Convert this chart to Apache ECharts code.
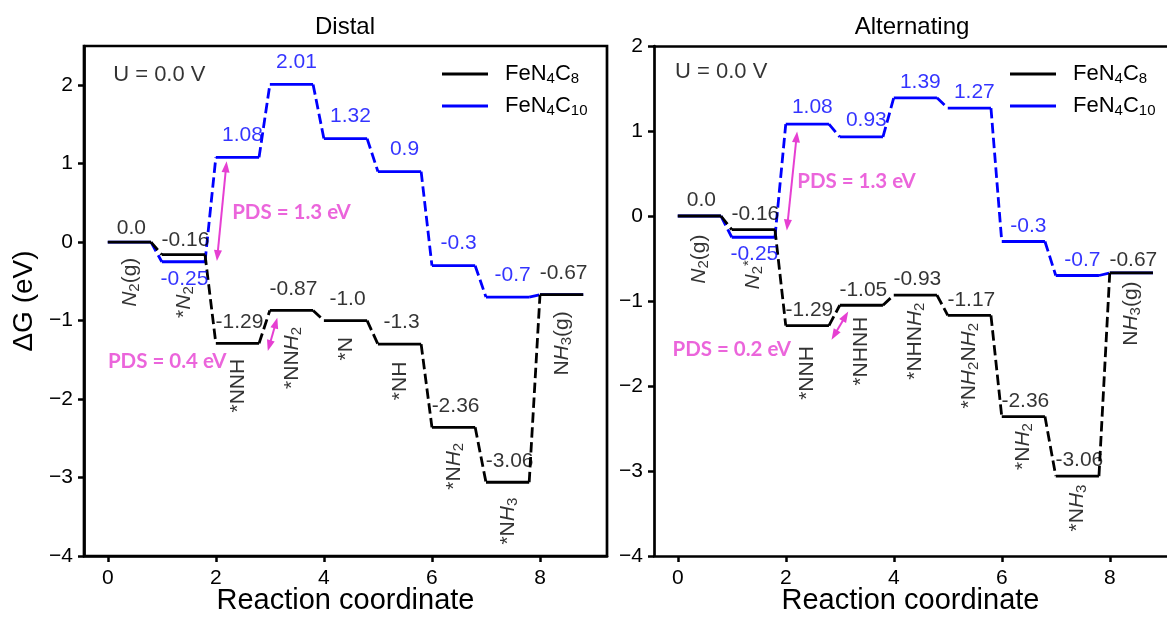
<!DOCTYPE html>
<html>
<head>
<meta charset="utf-8">
<script src="https://cdn.jsdelivr.net/npm/echarts@6/dist/echarts.min.js"></script>
<style>html,body{margin:0;padding:0;background:#fff}#c{width:1167px;height:619px}</style>
</head>
<body>
<div id="c"></div>
<script>
// ---------------- data ----------------
const steps = [0, 1, 2, 3, 4, 5, 6, 7, 8];
const distalC8  = [0.0, -0.16, -1.29, -0.87, -1.0, -1.3, -2.36, -3.06, -0.67];
const distalC10 = [0.0, -0.25, 1.08, 2.01, 1.32, 0.9, -0.3, -0.7, -0.67];
const altC8     = [0.0, -0.16, -1.29, -1.05, -0.93, -1.17, -2.36, -3.06, -0.67];
const altC10    = [0.0, -0.25, 1.08, 0.93, 1.39, 1.27, -0.3, -0.7, -0.67];
const distalNames = ['{i|N}{s|2}(g)', '*{i|N}{s|2}', '*NNH', '*NN{i|H}{s|2}', '*N', '*NH', '*N{i|H}{s|2}', '*N{i|H}{s|3}', 'N{i|H}{s|3}(g)'];
const altNames    = ['{i|N}{s|2}(g)', '{i|N}{s|2}{p|*}', '*NNH', '*NHNH', '*NHN{i|H}{s|2}', '*N{i|H}{s|2}N{i|H}{s|2}', '*N{i|H}{s|2}', '*N{i|H}{s|3}', 'N{i|H}{s|3}(g)'];
const blueLabelIdx = [1, 2, 3, 4, 5, 6, 7];
const xTicks = [0, 2, 4, 6, 8];
const yTicks = [-4, -3, -2, -1, 0, 1, 2];
const seriesNames = ['FeN4C8', 'FeN4C10'];
const titles = ['Distal', 'Alternating'];
// annotations (data coordinates)
const distalNotes = [['U = 0.0 V', 0.1, 2.13], ['PDS = 1.3 eV', 3.4, 0.376], ['PDS = 0.4 eV', 1.1, -1.52]];
const altNotes    = [['U = 0.0 V', -0.05, 1.69], ['PDS = 1.3 eV', 3.31, 0.41], ['PDS = 0.2 eV', 1.0, -1.575]];
const distalArrows = [[[2.03, -0.17], [2.19, 0.96]], [[2.99, -1.32], [3.11, -1.03]]];
const altArrows    = [[[2.03, -0.106], [2.20, 0.93]], [[2.90, -1.40], [3.105, -1.18]]];

// ---------------- layout / style ----------------
const FONT = '"Liberation Sans", Arial, sans-serif';
const BLUE = '#0000ff', BLACK = '#000000', MAG = '#E63FD2';
const LW = 0.8;   // level width
const LC = 0.4;   // level centre
const panels = [
  { c8: distalC8, c10: distalC10, names: distalNames, notes: distalNotes, arrows: distalArrows,
    ymax: 2.5, xmax: 9.24, left: 84, width: 523, frame: true, titleX: 345, legendX: 442,
    blackDy: [-13.5, -14.5, -21.5, -21.5, -21.5, -21.5, -21.5, -21.5, -21.5],
    blueDy: [0, 17, -22, -22, -22, -22, -22, -22, 0],
    nameTop: [16, 32, 16, 17, 17, 18, 16, 16, 17], nameDx: 1 },
  { c8: altC8, c10: altC10, names: altNames, notes: altNotes, arrows: altArrows,
    ymax: 2, xmax: 9.06, left: 654, width: 513, frame: false, titleX: 912, legendX: 1010,
    blackDy: [-16, -15, -15.5, -15.5, -15.5, -15.5, -15.5, -15.5, -13],
    blueDy: [0, 17, -16.5, -16.5, -16, -16, -15.5, -15.5, 0],
    nameTop: [19, 31, 21, 12, 8, 8, 7, 9, 9], nameDx: 0 }
];

function fmt(v) { return Number.isInteger(v) ? v.toFixed(1) : String(v); }
function levelData(vals) {
  const d = [];
  vals.forEach((v, i) => { d.push([steps[i], v], [steps[i] + LW, v], [steps[i] + LW, '-']); });
  return d;
}
function connData(vals) {
  const d = [];
  for (let i = 0; i < vals.length - 1; i++) d.push([steps[i] + LW, vals[i]], [steps[i + 1], vals[i + 1]], [steps[i + 1], '-']);
  return d;
}
const richName = {
  i: { fontStyle: 'italic', fontSize: 21, lineHeight: 24, fontFamily: FONT, color: BLACK },
  s: { fontSize: 15, lineHeight: 10, verticalAlign: 'bottom', fontFamily: FONT, color: BLACK },
  p: { fontSize: 15, lineHeight: 10, verticalAlign: 'top', fontFamily: FONT, color: BLACK }
};
const hidden = { color: 'rgba(0,0,0,0)' };

const series = [];
panels.forEach((P, k) => {
  const ax = { xAxisIndex: k, yAxisIndex: k, silent: true };
  [[P.c10, BLUE, seriesNames[1], 2], [P.c8, BLACK, seriesNames[0], 3]].forEach(([vals, col, nm, z]) => {
    series.push(Object.assign({ type: 'line', name: nm, data: levelData(vals), showSymbol: false, symbol: 'none',
      color: col, itemStyle: { color: col }, lineStyle: { color: col, width: 2.8, type: 'solid' }, connectNulls: false, z }, ax));
    series.push(Object.assign({ type: 'line', name: nm, data: connData(vals), showSymbol: false, symbol: 'none',
      color: col, itemStyle: { color: col }, lineStyle: { color: col, width: 2.8, type: [10.4, 4.5] }, connectNulls: false, z }, ax));
  });
  // value labels black
  series.push(Object.assign({ type: 'scatter', name: 'lblK' + k, symbolSize: 1, itemStyle: hidden, z: 6,
    data: steps.map((s, i) => ({ name: fmt(P.c8[i]), value: [s + LC, P.c8[i]], label: { offset: [2, P.blackDy[i]] } })),
    label: { show: true, position: 'inside', formatter: q => q.name, color: BLACK, fontSize: 21, fontFamily: FONT, align: 'center', verticalAlign: 'middle' } }, ax));
  // value labels blue
  series.push(Object.assign({ type: 'scatter', name: 'lblB' + k, symbolSize: 1, itemStyle: hidden, z: 6,
    data: blueLabelIdx.map(i => ({ name: fmt(P.c10[i]), value: [steps[i] + LC, P.c10[i]], label: { offset: [i === 1 ? 1 : 5, P.blueDy[i]] } })),
    label: { show: true, position: 'inside', formatter: q => q.name, color: BLUE, fontSize: 21, fontFamily: FONT, align: 'center', verticalAlign: 'middle' } }, ax));
  // step names
  series.push(Object.assign({ type: 'scatter', name: 'nm' + k, symbolSize: 1, itemStyle: hidden, z: 6,
    data: steps.map((s, i) => ({ name: P.names[i], value: [s + LC, P.c8[i]], label: { position: [P.nameDx, P.nameTop[i]] } })),
    label: { show: true, formatter: q => q.name, rotate: 90, align: 'right', verticalAlign: 'middle', color: BLACK, fontSize: 21, lineHeight: 24, fontFamily: FONT, rich: richName } }, ax));
  // annotations + PDS arrows
  series.push(Object.assign({ type: 'scatter', name: 'ann' + k, symbolSize: 1, itemStyle: hidden, z: 7,
    data: P.notes.map((n, j) => ({ name: n[0], value: [n[1], n[2]],
      label: j === 0 ? { color: BLACK, fontSize: 22, fontFamily: FONT, align: 'left', fontWeight: 'normal' }
                     : { color: MAG, fontSize: 20.5, fontFamily: 'Lato, "Liberation Sans", sans-serif', align: 'center', fontWeight: 'bold' } })),
    label: { show: true, position: 'inside', formatter: q => q.name, verticalAlign: 'middle' },
    markLine: { silent: true, animation: false, symbol: ['triangle', 'triangle'], symbolSize: [8, 11],
      lineStyle: { color: MAG, width: 2, type: 'solid' }, itemStyle: { color: MAG }, label: { show: false }, emphasis: { disabled: true },
      data: P.arrows.map(a => [{ coord: a[0] }, { coord: a[1] }]) } }, ax));
});

function mkX(k) {
  return { type: 'value', gridIndex: k, min: -0.44, max: panels[k].xmax,
    name: 'Reaction coordinate', nameLocation: 'middle', nameGap: 30, nameMoveOverlap: false,
    nameTextStyle: { fontSize: 29, fontFamily: FONT, color: BLACK },
    axisLine: { show: true, onZero: false, lineStyle: { color: BLACK, width: 2.7 } },
    axisTick: { show: true, length: 6, customValues: xTicks, lineStyle: { color: BLACK, width: 2.5 } },
    axisLabel: { customValues: xTicks, margin: 12, fontSize: 21, color: BLACK, fontFamily: FONT },
    splitLine: { show: false } };
}
function mkTopFrame(k) {
  return { type: 'value', gridIndex: k, position: 'top', min: -0.44, max: panels[k].xmax,
    axisLine: { show: true, onZero: false, lineStyle: { color: BLACK, width: 2.7 } },
    axisTick: { show: false }, axisLabel: { show: false }, splitLine: { show: false } };
}
function mkY(k) {
  const y = { type: 'value', gridIndex: k, min: -4, max: panels[k].ymax,
    axisLine: { show: true, onZero: false, lineStyle: { color: BLACK, width: 2.7 } },
    axisTick: { show: true, length: 6, customValues: yTicks, lineStyle: { color: BLACK, width: 2.5 } },
    axisLabel: { customValues: yTicks, margin: 11, fontSize: 21, color: BLACK, fontFamily: FONT,
      formatter: v => (v < 0 ? '\u2212' + Math.abs(v) : String(v)) },
    splitLine: { show: false } };
  if (k === 0) Object.assign(y, { name: '\u0394G (eV)', nameLocation: 'middle', nameGap: 46, nameRotate: 90, nameMoveOverlap: false,
    nameTextStyle: { fontSize: 28, fontFamily: FONT, color: BLACK } });
  return y;
}
function mkLegend(x) {
  return { show: true, data: seriesNames, orient: 'vertical', left: x, top: 62, padding: 0, itemGap: 8,
    itemWidth: 46, itemHeight: 3, icon: 'rect', selectedMode: false,
    formatter: n => (n === 'FeN4C8' ? '{g| }FeN{s|4}C{s|8}' : '{g| }FeN{s|4}C{s|10}'),
    textStyle: { fontSize: 22, fontFamily: FONT, color: BLACK, lineHeight: 24,
      rich: { g: { width: 12, fontSize: 22 }, s: { fontSize: 15, lineHeight: 10, verticalAlign: 'bottom', fontFamily: FONT, color: BLACK } } } };
}

const option = {
  animation: false,
  backgroundColor: '#ffffff',
  title: panels.map((P, k) => ({ text: titles[k], left: P.titleX, top: 15, textAlign: 'center', padding: 0,
    textStyle: { fontSize: 24, fontWeight: 'normal', fontFamily: FONT, color: BLACK } })),
  grid: panels.map(P => ({ left: P.left, top: 46, width: P.width, height: 510, show: P.frame,
    outerBoundsMode: 'none', containLabel: false,
    borderColor: BLACK, borderWidth: 2.7, backgroundColor: 'transparent' })),
  xAxis: [mkX(0), mkX(1), mkTopFrame(1)],
  yAxis: [mkY(0), mkY(1)],
  legend: panels.map(P => mkLegend(P.legendX)),
  series
};
const chart = echarts.init(document.getElementById('c'), null, { renderer: 'canvas' });
chart.setOption(option);
</script>
</body>
</html>
